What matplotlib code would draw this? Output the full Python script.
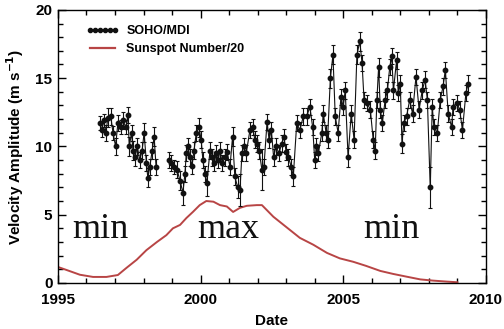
"""Velocity amplitude (SOHO/MDI) against scaled sunspot number, 1995-2010."""

import matplotlib
matplotlib.use("Agg")
import matplotlib.pyplot as plt
import numpy as np
from matplotlib.lines import Line2D
from matplotlib.ticker import MultipleLocator

# SOHO/MDI velocity amplitude (m/s); NaN marks the 1998 data gap
mdi_year = [
    1996.47, 1996.54, 1996.61, 1996.68, 1996.75, 1996.85, 1996.93, 1997.02,
    1997.10, 1997.20, 1997.28, 1997.38, 1997.45, 1997.50, 1997.58, 1997.63,
    1997.70, 1997.78, 1997.87, 1997.95, 1998.02, 1998.10, 1998.15, 1998.22,
    1998.30, 1998.37, 1998.44, 1998.70, 1998.90, 1998.98, 1999.06, 1999.17,
    1999.28, 1999.38, 1999.45, 1999.50, 1999.56, 1999.63, 1999.70, 1999.77,
    1999.85, 1999.94, 2000.02, 2000.08, 2000.15, 2000.22, 2000.33, 2000.40,
    2000.48, 2000.55, 2000.62, 2000.68, 2000.76, 2000.85, 2000.93, 2001.03,
    2001.12, 2001.20, 2001.30, 2001.38, 2001.45, 2001.52, 2001.60, 2001.73,
    2001.83, 2001.90, 2001.97, 2002.05, 2002.15, 2002.22, 2002.33, 2002.40,
    2002.48, 2002.56, 2002.64, 2002.75, 2002.84, 2002.92, 2003.00, 2003.08,
    2003.18, 2003.25, 2003.37, 2003.48, 2003.60, 2003.72, 2003.83, 2003.93,
    2004.00, 2004.06, 2004.13, 2004.25, 2004.30, 2004.40, 2004.45, 2004.55,
    2004.64, 2004.72, 2004.82, 2004.92, 2005.00, 2005.07, 2005.17, 2005.28,
    2005.38, 2005.48, 2005.58, 2005.66, 2005.73, 2005.83, 2005.95, 2006.05,
    2006.12, 2006.18, 2006.24, 2006.30, 2006.37, 2006.47, 2006.55, 2006.63,
    2006.70, 2006.76, 2006.87, 2006.93, 2007.00, 2007.06, 2007.12, 2007.22,
    2007.33, 2007.43, 2007.55, 2007.66, 2007.77, 2007.87, 2007.95, 2008.05,
    2008.12, 2008.18, 2008.30, 2008.40, 2008.50, 2008.58, 2008.68, 2008.80,
    2008.85, 2008.98, 2009.08, 2009.18, 2009.30, 2009.38,
]
mdi_amp = [
    11.7, 11.2, 11.9, 11.0, 12.1, 12.2, 11.0, 10.0,
    11.7, 11.4, 11.9, 11.4, 12.3, 10.0, 11.0, 9.7,
    9.2, 10.0, 9.0, 9.7, 11.0, 8.8, 7.7, 8.5,
    9.7, 10.7, 8.5, np.nan, 9.0, 8.8, 8.5, 8.3,
    7.5, 6.6, 8.0, 9.5, 10.0, 9.2, 8.6, 9.7,
    11.0, 11.4, 10.5, 9.0, 8.0, 7.3, 9.7, 9.2,
    8.8, 9.5, 9.0, 9.7, 8.8, 9.2, 9.6, 8.5,
    10.7, 7.8, 7.0, 6.8, 9.5, 10.0, 9.5, 11.2,
    11.4, 10.5, 10.2, 9.7, 8.3, 8.5, 11.8, 10.5,
    11.2, 9.2, 10.0, 9.5, 10.2, 10.7, 9.6, 9.2,
    8.5, 7.8, 11.7, 11.2, 12.2, 12.2, 12.9, 11.4,
    9.0, 10.0, 9.5, 11.0, 12.4, 11.0, 10.5, 15.0,
    16.7, 12.2, 11.0, 13.6, 12.9, 14.1, 9.2, 12.4,
    10.5, 16.7, 17.7, 16.1, 13.4, 13.2, 12.7, 10.5,
    9.7, 13.4, 15.8, 12.7, 11.7, 13.4, 14.1, 15.8,
    16.6, 14.1, 16.3, 13.9, 14.6, 10.2, 11.7, 12.2,
    13.4, 12.4, 15.1, 12.7, 14.1, 14.9, 13.4, 7.0,
    12.9, 11.4, 11.0, 13.4, 14.4, 15.6, 12.4, 11.4,
    12.9, 13.2, 12.7, 11.2, 13.9, 14.6,
]
mdi_err = [
    0.5, 0.5, 0.5, 0.6, 0.7, 0.6, 0.5, 0.6,
    0.6, 0.5, 0.6, 0.5, 0.6, 0.7, 0.6, 0.7,
    0.6, 0.6, 0.6, 0.6, 0.7, 0.6, 0.7, 0.6,
    0.6, 0.7, 0.6, np.nan, 0.6, 0.6, 0.5, 0.6,
    0.7, 0.9, 0.6, 0.6, 0.6, 0.6, 0.6, 0.6,
    0.6, 0.7, 0.6, 0.6, 0.6, 0.9, 0.6, 0.6,
    0.6, 0.6, 0.6, 0.6, 0.6, 0.6, 0.6, 0.6,
    0.7, 0.6, 0.8, 1.2, 0.6, 0.6, 0.6, 0.6,
    0.6, 0.6, 0.6, 0.6, 1.5, 0.6, 0.6, 0.6,
    0.6, 0.6, 0.6, 0.6, 0.6, 0.6, 0.6, 0.6,
    0.6, 0.7, 0.6, 0.6, 0.6, 0.6, 0.6, 0.6,
    0.6, 0.6, 0.6, 0.6, 0.6, 0.6, 0.6, 0.7,
    0.7, 0.6, 0.6, 0.6, 0.6, 0.6, 0.7, 0.6,
    0.6, 0.7, 0.7, 0.6, 0.6, 0.6, 0.6, 0.6,
    0.6, 0.6, 0.7, 0.6, 0.6, 0.6, 0.6, 0.6,
    0.6, 0.6, 0.6, 0.6, 0.6, 0.7, 0.6, 0.6,
    0.6, 0.6, 0.6, 0.6, 0.6, 0.6, 0.6, 1.5,
    0.6, 0.6, 0.6, 0.6, 0.6, 0.6, 0.6, 0.6,
    0.6, 0.6, 0.6, 0.6, 0.6, 0.6,
]

# sunspot number / 20
ssn_year = [
    1995.0, 1995.3, 1995.77, 1996.23, 1996.7, 1997.1, 1997.4, 1997.76,
    1998.1, 1998.47, 1998.8, 1999.03, 1999.28, 1999.5, 1999.73, 1999.97,
    2000.2, 2000.45, 2000.68, 2000.92, 2001.14, 2001.38, 2001.62, 2001.97,
    2002.15, 2002.55, 2003.0, 2003.48, 2003.95, 2004.43, 2004.88, 2005.35,
    2005.8, 2006.3, 2006.75, 2007.22, 2007.7, 2008.15, 2008.62, 2009.0,
]
ssn_scaled = [
    1.17, 0.95, 0.6, 0.44, 0.44, 0.58, 1.1, 1.7,
    2.4, 3.0, 3.5, 4.0, 4.25, 4.75, 5.2, 5.7,
    6.0, 5.95, 5.7, 5.6, 5.2, 5.5, 5.65, 5.7,
    5.7, 4.85, 4.1, 3.3, 2.8, 2.2, 1.8, 1.55,
    1.25, 0.88, 0.66, 0.46, 0.26, 0.17, 0.1, 0.05,
]

phase_labels = ["min", "max", "min"]
phase_x = [1995.5, 1999.87, 2005.7]
phase_y = 3.3

SANS = ["Liberation Sans Narrow", "Liberation Sans", "DejaVu Sans"]

fig = plt.figure(figsize=(5.04, 3.29), dpi=100)
ax = fig.add_axes([0.115, 0.140, 0.849, 0.830])

ax.plot(ssn_year, ssn_scaled, color="#b84545", linewidth=1.4, zorder=2)
ax.errorbar(
    mdi_year, mdi_amp, yerr=mdi_err,
    fmt="-o", color="#111111", ecolor="#111111", markersize=3.2,
    linewidth=0.8, elinewidth=0.8, capsize=1.5, capthick=0.8, zorder=3,
)

for label, xpos in zip(phase_labels, phase_x):
    ax.text(xpos, phase_y, label, family="Liberation Serif", fontsize=26,
            ha="left", va="baseline", color="#111111")

ax.set_xlim(1995, 2010)
ax.set_ylim(0, 20)
ax.xaxis.set_major_locator(MultipleLocator(5))
ax.xaxis.set_minor_locator(MultipleLocator(1))
ax.yaxis.set_major_locator(MultipleLocator(5))
ax.yaxis.set_minor_locator(MultipleLocator(1))
ax.tick_params(which="both", direction="in", top=True, right=True, width=1.0)
ax.tick_params(which="major", length=6, labelsize=11, pad=4)
ax.tick_params(axis="x", which="major", pad=7)
ax.tick_params(which="minor", length=3.5)
for lab in ax.get_xticklabels() + ax.get_yticklabels():
    lab.set_family(SANS)
    lab.set_fontweight("bold")
for sp in ax.spines.values():
    sp.set_linewidth(1.0)

ax.set_xlabel("Date", family=SANS, fontweight="bold", fontsize=11, labelpad=5)
ax.set_ylabel("Velocity Amplitude (m s$^{\\mathbf{-1}}$)", family=SANS,
              fontweight="bold", fontsize=11, labelpad=7)

handles = [
    Line2D([], [], linestyle="none", marker="o", markersize=3, color="#111111"),
    Line2D([], [], color="#b84545", linewidth=1.6),
]
leg = ax.legend(handles, ["SOHO/MDI", "Sunspot Number/20"], loc="upper left",
                bbox_to_anchor=(0.04, 0.985), frameon=False, numpoints=6,
                handlelength=2.6, handletextpad=0.6, labelspacing=0.5,
                prop={"family": SANS, "weight": "bold", "size": 9})

fig.savefig("out.png", dpi=100)
